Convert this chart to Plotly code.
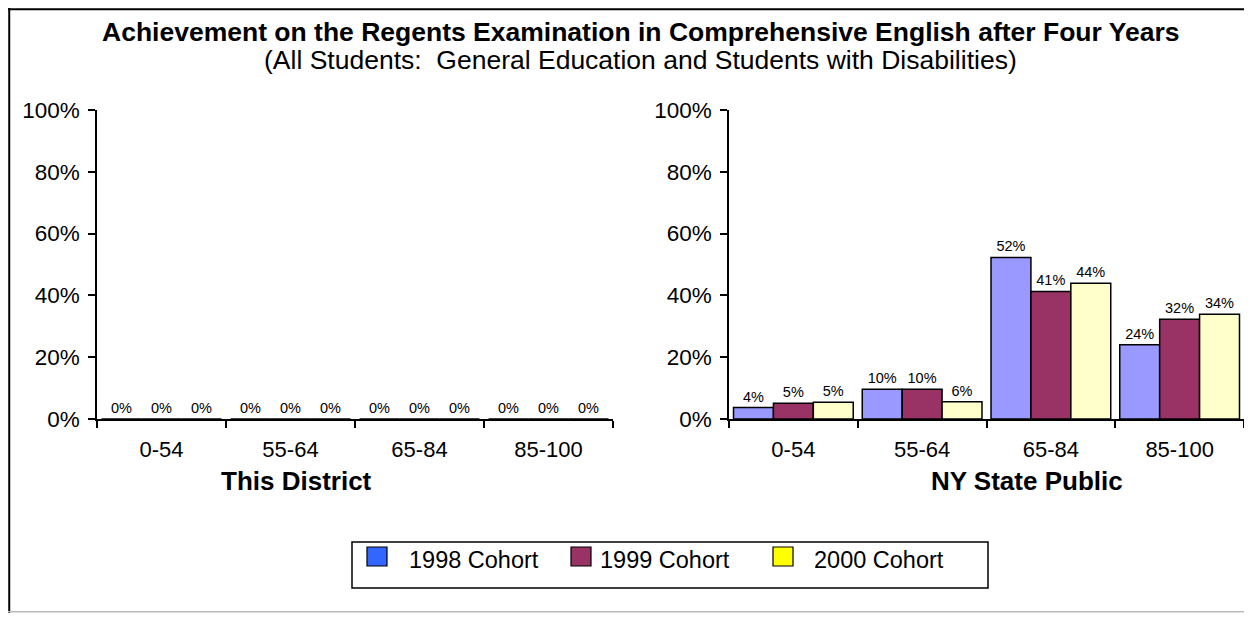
import plotly.graph_objects as go

# the page body has an 8px margin; size the figure so the page fits the window
OX, OY = 8, 8
W, H = 1252 - 2 * OX, 621 - 2 * OY

categories = ["0-54", "55-64", "65-84", "85-100"]
cohorts = ["1998 Cohort", "1999 Cohort", "2000 Cohort"]

# This District (all zero)
district_1998 = [0, 0, 0, 0]
district_1999 = [0, 0, 0, 0]
district_2000 = [0, 0, 0, 0]

# NY State Public (percent)
state_1998 = [3.7, 9.6, 52.3, 24.0]
state_1999 = [5.1, 9.6, 41.3, 32.3]
state_2000 = [5.4, 5.6, 43.9, 33.9]

y_ticks = [0, 20, 40, 60, 80, 100]
y_tick_labels = ["0%", "20%", "40%", "60%", "80%", "100%"]

bar_colors = ["#9999FF", "#993366", "#FFFFCC"]
legend_colors = ["#3366FF", "#993366", "#FFFF00"]

title_text = "Achievement on the Regents Examination in Comprehensive English after Four Years"
subtitle_text = "(All Students:  General Education and Students with Disabilities)"
panel_titles = ["This District", "NY State Public"]

FONT = "Arial, Liberation Sans, sans-serif"

def px(x):
    return (x - OX) / W

def py(y):
    return 1 - (y - OY) / H

fig = go.Figure()

district = [district_1998, district_1999, district_2000]
state = [state_1998, state_1999, state_2000]

for i, name in enumerate(cohorts):
    fig.add_trace(go.Bar(
        x=categories, y=district[i], name=name,
        marker=dict(color=bar_colors[i], line=dict(color="black", width=1.5)),
        texttemplate="%{y:.0f}%", textposition="outside",
        textfont=dict(family=FONT, size=14.5, color="black"),
        cliponaxis=False, showlegend=False,
        xaxis="x", yaxis="y",
    ))
for i, name in enumerate(cohorts):
    fig.add_trace(go.Bar(
        x=categories, y=state[i], name=name,
        marker=dict(color=bar_colors[i], line=dict(color="black", width=1.5)),
        texttemplate="%{y:.0f}%", textposition="outside",
        textfont=dict(family=FONT, size=14.5, color="black"),
        cliponaxis=False, showlegend=False,
        xaxis="x2", yaxis="y2",
    ))

y_dom = [py(419), py(110)]
xcommon = dict(
    type="category", showline=True, linecolor="black", linewidth=1.5,
    ticks="outside", tickson="boundaries", ticklen=7, tickcolor="black", tickwidth=1.5,
    tickfont=dict(family=FONT, size=22, color="black"),
    ticklabelstandoff=10, showgrid=False, zeroline=False, fixedrange=True,
)
ycommon = dict(
    range=[0, 100], tickmode="array", tickvals=y_ticks, ticktext=y_tick_labels,
    showline=True, linecolor="black", linewidth=1.5,
    ticks="outside", ticklen=7, tickcolor="black", tickwidth=1.5,
    tickfont=dict(family=FONT, size=22.5, color="black"),
    ticklabelstandoff=4,
    showgrid=False, zeroline=False, fixedrange=True, domain=y_dom,
)

fig.update_layout(
    width=W, height=H,
    margin=dict(l=0, r=0, t=0, b=0, autoexpand=False),
    paper_bgcolor="white", plot_bgcolor="white",
    barmode="group", bargap=0.07, bargroupgap=0,
    showlegend=False,
    xaxis=dict(domain=[px(97), px(613)], anchor="y", **xcommon),
    yaxis=dict(anchor="x", **ycommon),
    xaxis2=dict(domain=[px(729), px(1244)], anchor="y2", **xcommon),
    yaxis2=dict(anchor="x2", **ycommon),
    font=dict(family=FONT, color="black"),
)

annotations = [
    dict(text="<b>" + title_text + "</b>", x=px(640), y=py(32), xref="paper", yref="paper",
         showarrow=False, xanchor="center", yanchor="middle",
         font=dict(family=FONT, size=26.5, color="black")),
    dict(text=subtitle_text, x=px(640), y=py(60), xref="paper", yref="paper",
         showarrow=False, xanchor="center", yanchor="middle",
         font=dict(family=FONT, size=26.5, color="black")),
    dict(text="<b>" + panel_titles[0] + "</b>", x=px(296), y=py(481), xref="paper", yref="paper",
         showarrow=False, xanchor="center", yanchor="middle",
         font=dict(family=FONT, size=26, color="black")),
    dict(text="<b>" + panel_titles[1] + "</b>", x=px(1027), y=py(481), xref="paper", yref="paper",
         showarrow=False, xanchor="center", yanchor="middle",
         font=dict(family=FONT, size=26, color="black")),
]

shapes = [
    # figure frame (left, top) and bottom edge
    dict(type="line", xref="paper", yref="paper", x0=0.001, x1=0.001, y0=0, y1=1,
         line=dict(color="black", width=2)),
    dict(type="line", xref="paper", yref="paper", x0=0, x1=1, y0=0.998, y1=0.998,
         line=dict(color="black", width=2)),
    dict(type="line", xref="paper", yref="paper", x0=0, x1=1, y0=0.002, y1=0.002,
         line=dict(color="#BBBBBB", width=1.5)),
    # legend box
    dict(type="rect", xref="paper", yref="paper", x0=px(352), x1=px(988), y0=py(542), y1=py(588),
         line=dict(color="black", width=1.5), fillcolor="white"),
]

swatch_x = [367, 571, 773]
label_x = [407, 598, 812]
for i, name in enumerate(cohorts):
    shapes.append(dict(type="rect", xref="paper", yref="paper",
                       x0=px(swatch_x[i]), x1=px(swatch_x[i] + 20), y0=py(547), y1=py(566),
                       line=dict(color="black", width=1.2), fillcolor=legend_colors[i]))
    annotations.append(dict(text=name, x=px(label_x[i]), y=py(560), xref="paper", yref="paper",
                            showarrow=False, xanchor="left", yanchor="middle",
                            font=dict(family=FONT, size=23.5, color="black")))

fig.update_layout(annotations=annotations, shapes=shapes)

fig.write_html("out.html")
